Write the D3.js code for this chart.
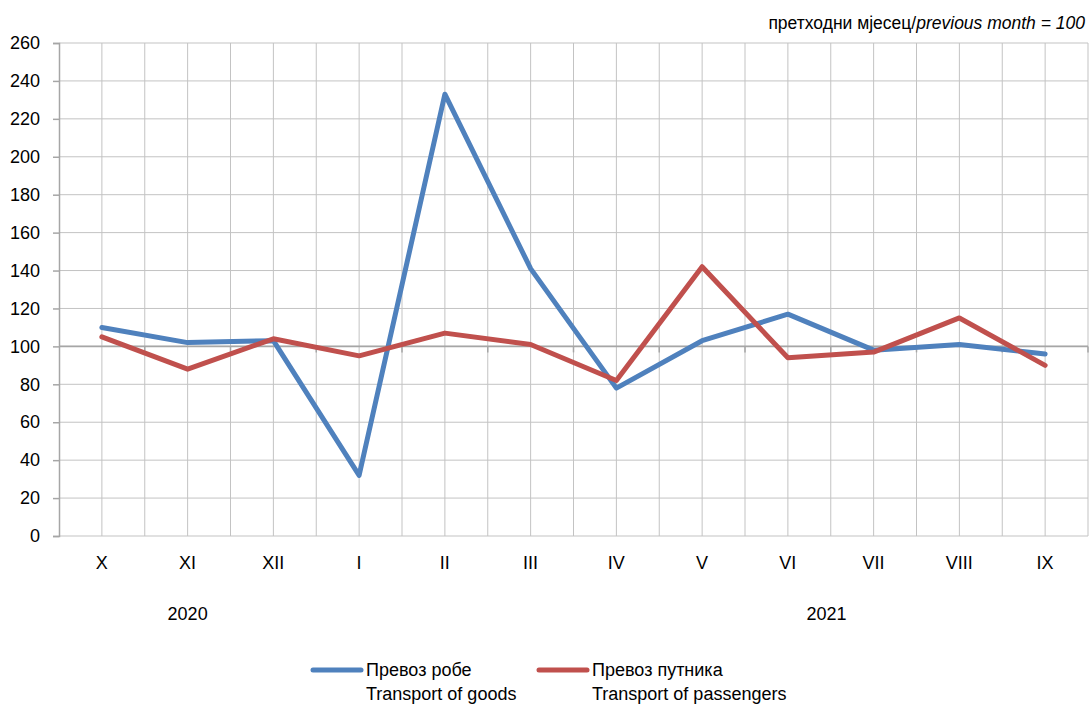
<!DOCTYPE html>
<html>
<head>
<meta charset="utf-8">
<script src="https://cdn.jsdelivr.net/npm/d3@7"></script>
<style>
  body { margin: 0; background: #fff; }
  svg { font-family: "Liberation Sans", Arial, sans-serif; }
</style>
</head>
<body>
<svg id="canvas" width="1091" height="706"></svg>
<script>
var months = ['X', 'XI', 'XII', 'I', 'II', 'III', 'IV', 'V', 'VI', 'VII', 'VIII', 'IX'];
var goods = [110, 102, 103, 32, 233, 141, 78, 103, 117, 98, 101, 96];
var passengers = [105, 88, 104, 95, 107, 101, 82, 142, 94, 97, 115, 90];
var yTicks = [0, 20, 40, 60, 80, 100, 120, 140, 160, 180, 200, 220, 240, 260];
var years = [{label: '2020', at: 1.0}, {label: '2021', at: 8.45}];
var seriesNames = [
    {ru: 'Превоз робе', en: 'Transport of goods', color: '#4f81bd', values: goods},
    {ru: 'Превоз путника', en: 'Transport of passengers', color: '#c0504d', values: passengers}
];

var svg = d3.select('#canvas');
var plotLeft = 59, plotRight = 1088, plotTop = 43, plotBottom = 536;

var x = d3.scaleBand()
    .domain(months)
    .range([plotLeft, plotRight]);
var y = d3.scaleLinear()
    .domain([0, 260])
    .range([plotBottom, plotTop]);

var step = x.step();

// horizontal gridlines
svg.append('g').selectAll('line')
    .data(yTicks)
    .enter().append('line')
    .attr('x1', plotLeft).attr('x2', plotRight)
    .attr('y1', function(d) { return y(d); })
    .attr('y2', function(d) { return y(d); })
    .attr('stroke', '#c3c3c3')
    .attr('stroke-width', 1);

// vertical gridlines at centers and boundaries
var vx = [];
months.forEach(function(m) {
    vx.push(x(m) + step / 2);
    vx.push(x(m) + step);
});
svg.append('g').selectAll('line')
    .data(vx)
    .enter().append('line')
    .attr('x1', function(d) { return d; })
    .attr('x2', function(d) { return d; })
    .attr('y1', plotTop).attr('y2', plotBottom)
    .attr('stroke', '#c3c3c3')
    .attr('stroke-width', 1);

// y axis
var yAxis = svg.append('g')
    .attr('transform', 'translate(' + plotLeft + ',0)')
    .call(d3.axisLeft(y).tickValues(yTicks).tickSize(6).tickPadding(13));
yAxis.select('.domain').attr('stroke', '#a6a6a6').attr('stroke-width', 1.5);
yAxis.selectAll('.tick line').attr('stroke', '#a6a6a6').attr('stroke-width', 1.5);
yAxis.selectAll('text')
    .style('font-size', '18px')
    .attr('font-family', null)
    .attr('fill', '#000');

// category axis crossing at 100
var xAxis = svg.append('g')
    .attr('transform', 'translate(0,' + y(100) + ')');
xAxis.append('line')
    .attr('x1', plotLeft).attr('x2', plotRight)
    .attr('y1', 0).attr('y2', 0)
    .attr('stroke', '#a6a6a6')
    .attr('stroke-width', 1.8);
xAxis.selectAll('.tk')
    .data(months)
    .enter().append('line')
    .attr('class', 'tk')
    .attr('x1', function(d) { return x(d) + step; })
    .attr('x2', function(d) { return x(d) + step; })
    .attr('y1', 0).attr('y2', 6)
    .attr('stroke', '#a6a6a6')
    .attr('stroke-width', 1.5);

// month labels at bottom
svg.append('g').selectAll('text')
    .data(months)
    .enter().append('text')
    .attr('x', function(d) { return x(d) + step / 2; })
    .attr('y', 569)
    .attr('text-anchor', 'middle')
    .style('font-size', '18px')
    .text(function(d) { return d; });

svg.append('g').selectAll('text')
    .data(years)
    .enter().append('text')
    .attr('x', function(d) { return plotLeft + step * (d.at + 0.5); })
    .attr('y', 620)
    .attr('text-anchor', 'middle')
    .style('font-size', '18px')
    .text(function(d) { return d.label; });

// lines
var line = d3.line()
    .x(function(d, i) { return x(months[i]) + step / 2; })
    .y(function(d) { return y(d); });

seriesNames.forEach(function(s) {
    svg.append('path')
        .datum(s.values)
        .attr('d', line)
        .attr('fill', 'none')
        .attr('stroke', s.color)
        .attr('stroke-width', 5)
        .attr('stroke-linejoin', 'round')
        .attr('stroke-linecap', 'round');
});

// unit note
var note = svg.append('text')
    .attr('x', 1085)
    .attr('y', 29)
    .attr('text-anchor', 'end')
    .style('font-size', '17.5px');
note.append('tspan').text('претходни мјесец/');
note.append('tspan').style('font-style', 'italic').text('previous month = 100');

// legend
var legendX = [313, 539];
seriesNames.forEach(function(s, i) {
    var g = svg.append('g').attr('transform', 'translate(' + legendX[i] + ',0)');
    g.append('line')
        .attr('x1', 0).attr('x2', 48)
        .attr('y1', 670).attr('y2', 670)
        .attr('stroke', s.color)
        .attr('stroke-width', 5)
        .attr('stroke-linecap', 'round');
    g.append('text')
        .attr('x', 53).attr('y', 676)
        .style('font-size', '18px')
        .text(s.ru);
    g.append('text')
        .attr('x', 53).attr('y', 700)
        .style('font-size', '18px')
        .text(s.en);
});
</script>
</body>
</html>
